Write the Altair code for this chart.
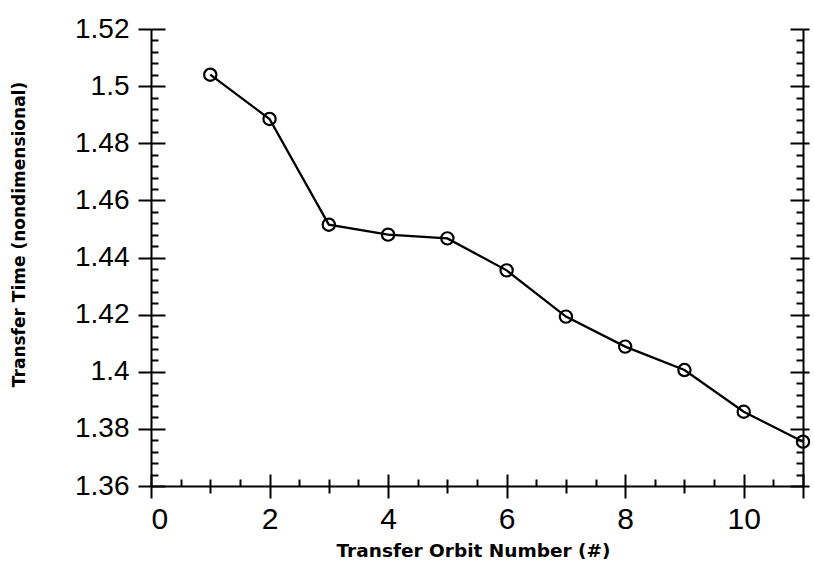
import altair as alt
import pandas as pd

# Transfer time for each transfer orbit
orbit_number = [1, 2, 3, 4, 5, 6, 7, 8, 9, 10, 11]
transfer_time = [1.504, 1.4885, 1.4515, 1.448, 1.4467, 1.4355, 1.4193, 1.4088, 1.4006, 1.386, 1.3755]

# Axis ranges and tick positions
x_domain = [0, 11]
y_domain = [1.36, 1.52]
x_ticks = [i * 0.5 for i in range(0, 23)]                 # every 0.5, labelled every 2
y_major = [1.36, 1.38, 1.40, 1.42, 1.44, 1.46, 1.48, 1.50, 1.52]
y_ticks = [round(1.36 + 0.004 * i, 3) for i in range(0, 41)]  # minor every 0.004

W, H = 652, 457
FONT = "Liberation Sans"
TITLE_FONT = "DejaVu Sans"

df = pd.DataFrame({"orbit": orbit_number, "time": transfer_time})

x_scale = alt.Scale(domain=x_domain, nice=False, zero=False)
y_scale = alt.Scale(domain=y_domain, nice=False, zero=False)

x_major_test = "datum.value % 2 == 0 || datum.value == 11"
y_major_test = "abs(datum.value * 50 - round(datum.value * 50)) < 0.0001"

base = alt.Chart(df)

# main layer: polyline with open circles, bottom and left labelled axes
line = base.mark_line(color="black", strokeWidth=2.3).encode(
    x=alt.X("orbit:Q", scale=x_scale, axis=alt.Axis(
        orient="bottom", values=x_ticks, title="Transfer Orbit Number (#)", format="~g",
        labelExpr="datum.value % 2 == 0 && datum.value <= 10 ? datum.label : ''",
        tickSize={"condition": {"test": x_major_test, "value": 12}, "value": 7},
        labelFontSize=30, labelPadding=6,
        titleFontSize=18.5, titleX=322, titleY=64, titleAnchor="middle",
        titleAlign="center", titleBaseline="middle")),
    y=alt.Y("time:Q", scale=y_scale, axis=alt.Axis(
        orient="left", values=y_major, format=".2~f",
        title="Transfer Time (nondimensional)", tickSize=13,
        labelFontSize=28, labelPadding=9,
        titleFontSize=17, titleX=-132, titleY=205, titleAngle=-90,
        titleAlign="center", titleBaseline="middle")),
)
points = base.mark_point(shape="circle", size=150, filled=False, color="black",
                         strokeWidth=2.2, opacity=1).encode(x="orbit:Q", y="time:Q")
main = alt.layer(line, points)

# inward ticks along the bottom and the left edge
inner = base.mark_point(opacity=0).encode(
    x=alt.X("orbit:Q", scale=x_scale, axis=alt.Axis(
        orient="top", offset=-H, values=x_ticks, labels=False, domain=False, title=None,
        tickSize={"condition": {"test": x_major_test, "value": 12}, "value": 7})),
    y=alt.Y("time:Q", scale=y_scale, axis=alt.Axis(
        orient="right", offset=-W, values=y_ticks, labels=False, domain=False, title=None,
        tickSize={"condition": {"test": y_major_test, "value": 14}, "value": 7})),
)

# right frame line with short outward ticks
right_frame = base.mark_point(opacity=0).encode(
    x=alt.X("orbit:Q", scale=x_scale, axis=None),
    y=alt.Y("time:Q", scale=y_scale, axis=alt.Axis(
        orient="right", values=y_major, labels=False, title=None, tickSize=6)),
)

# inward ticks along the right frame
right_inner = base.mark_point(opacity=0).encode(
    x=alt.X("orbit:Q", scale=x_scale, axis=None),
    y=alt.Y("time:Q", scale=y_scale, axis=alt.Axis(
        orient="left", offset=-W, values=y_ticks, labels=False, domain=False, title=None,
        tickSize={"condition": {"test": y_major_test, "value": 13}, "value": 7})),
)

chart = alt.layer(main, inner, right_frame, right_inner).resolve_scale(
    x="independent", y="independent"
).properties(
    width=W, height=H,
    autosize=alt.AutoSizeParams(type="none"),
    padding={"left": 151, "top": 29, "right": 12, "bottom": 83},
).configure(background="white").configure_view(stroke=None).configure_axis(
    domainColor="black", domainWidth=2, tickColor="black", tickWidth=2,
    grid=False, labelFont=FONT, labelColor="black",
    titleFont=TITLE_FONT, titleFontWeight="bold", titleColor="black",
)

chart.save("out.html", embed_options={"renderer": "svg", "actions": False})
